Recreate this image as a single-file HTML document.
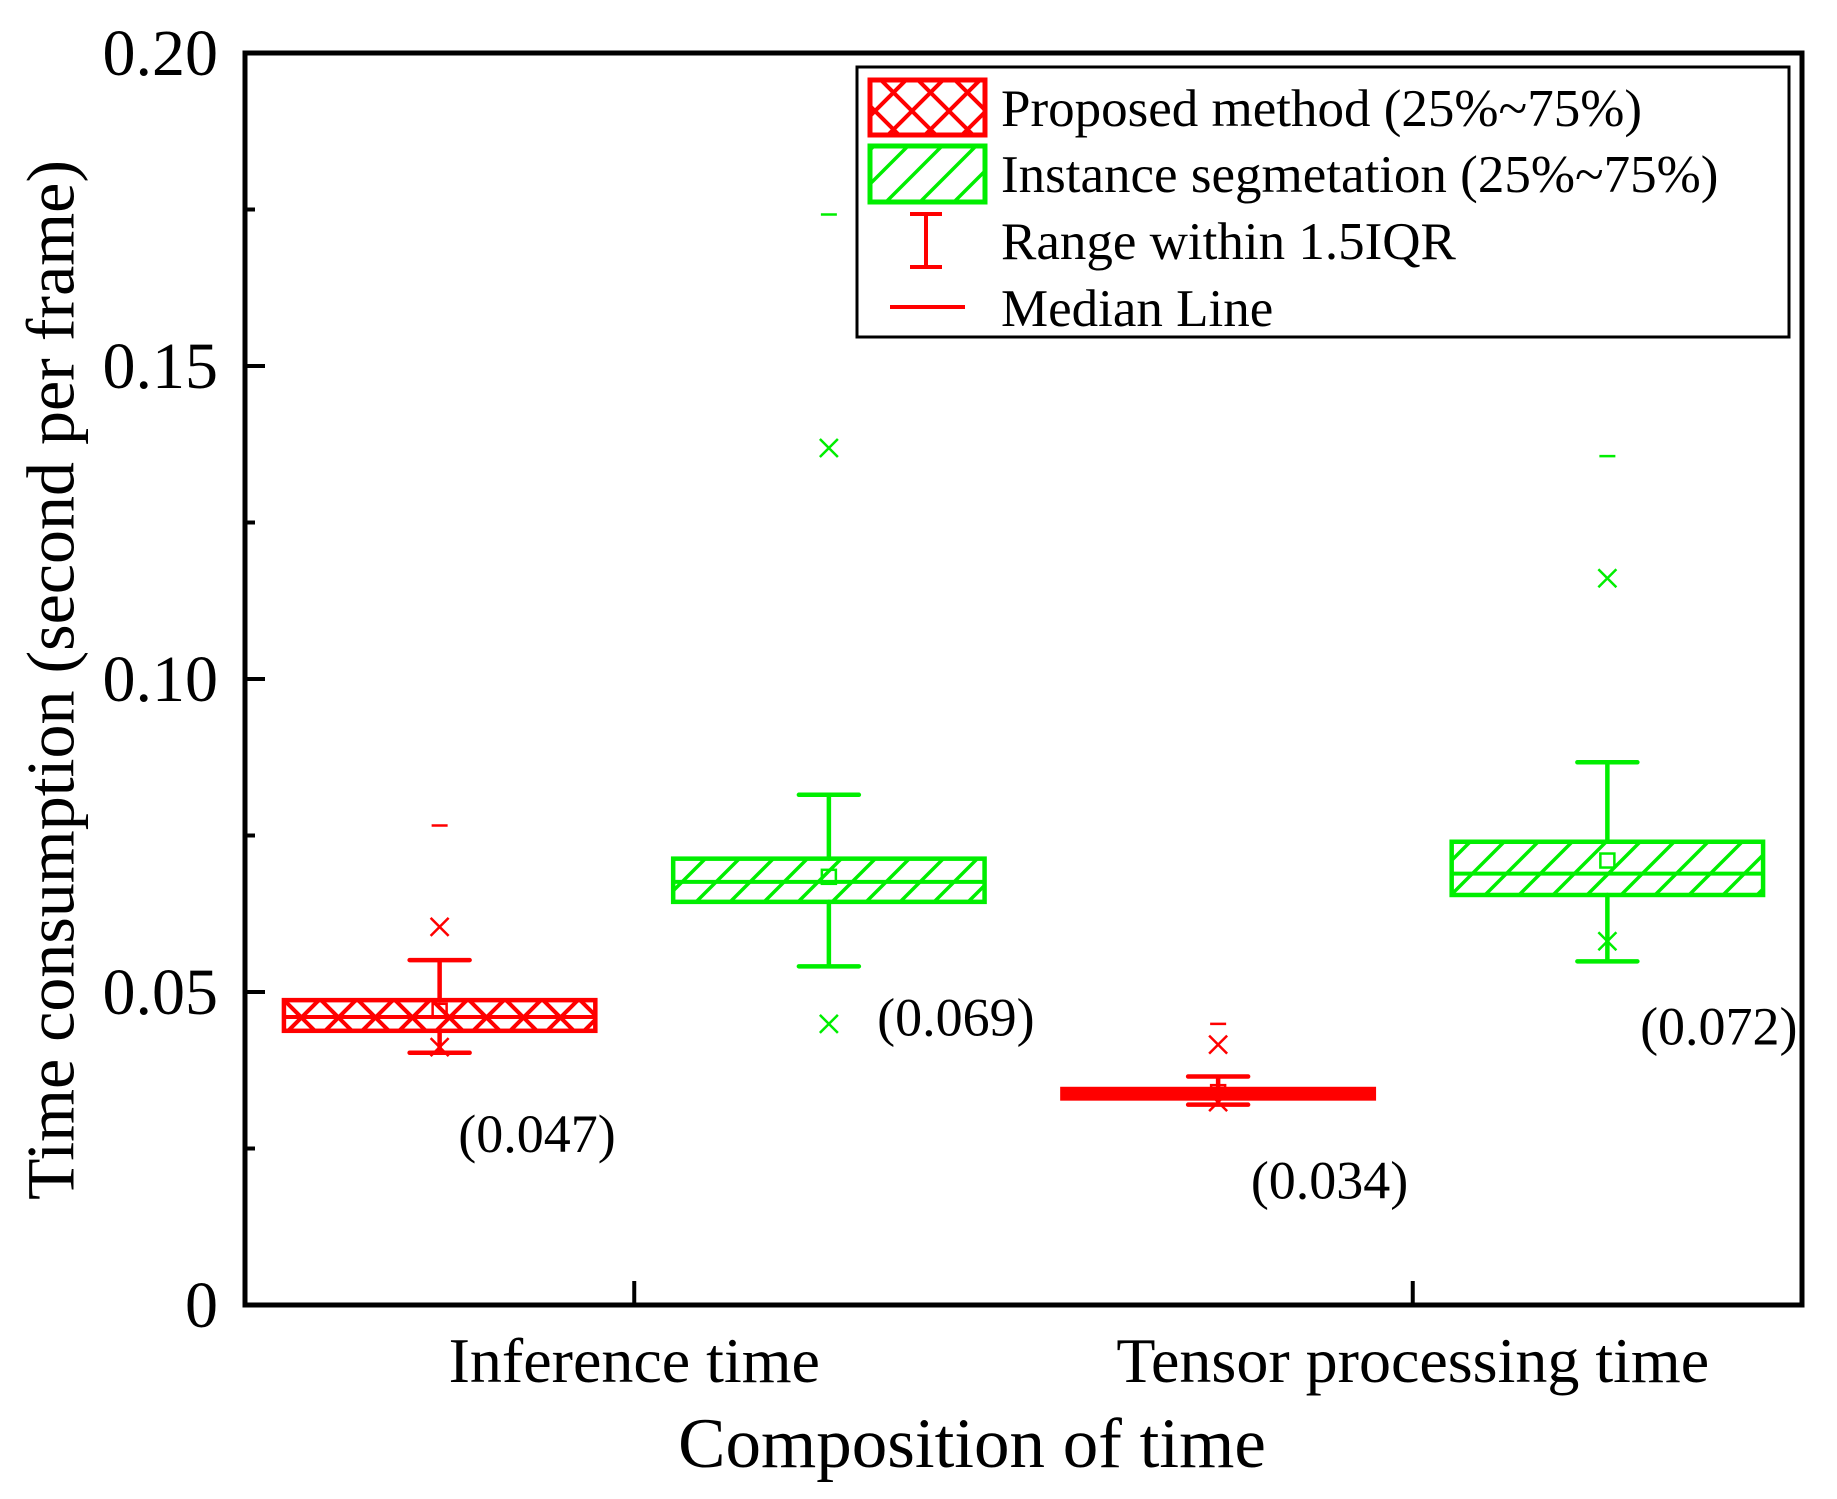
<!DOCTYPE html>
<html><head><meta charset="utf-8"><style>
html,body{margin:0;padding:0;background:#fff}
svg{display:block;font-family:"Liberation Serif",serif}
</style></head><body>
<svg id="chart" width="1837" height="1499" viewBox="0 0 1837 1499" xmlns="http://www.w3.org/2000/svg">
<defs>
<pattern id="cross" patternUnits="userSpaceOnUse" width="37" height="37" x="283" y="0">
<path d="M0,0 L37,37 M37,0 L0,37" stroke="#ff0000" stroke-width="4"/>
</pattern>
<pattern id="diag" patternUnits="userSpaceOnUse" width="34" height="34">
<path d="M0,34 L34,0 M-8,8 L8,-8 M26,42 L42,26" stroke="#00ee00" stroke-width="3.5"/>
</pattern>
</defs>
<g id="plot"></g>
<g id="axes"></g>
<g id="legend">
<rect x="857" y="67" width="932" height="270" fill="#fff" stroke="#000" stroke-width="3"/>
<rect x="870" y="80" width="115" height="55" fill="url(#cross)" stroke="#ff0000" stroke-width="5"/>
<text x="1001" y="126" font-size="53">Proposed method (25%~75%)</text>
<rect x="870" y="146" width="115" height="56" fill="url(#diag)" stroke="#00ee00" stroke-width="5"/>
<text x="1001" y="192" font-size="53">Instance segmetation (25%~75%)</text>
<g stroke="#ff0000" stroke-width="4"><path d="M910,214 H942 M926,214 V267 M910,267 H942"/></g>
<text x="1001" y="259" font-size="53">Range within 1.5IQR</text>
<path d="M890,307 H965" stroke="#ff0000" stroke-width="4"/>
<text x="1001" y="326" font-size="53">Median Line</text>
</g>
<text x="58" y="680" font-size="68" text-anchor="middle" transform="rotate(-90 58 680)" dominant-baseline="middle">Time consumption (second per frame)</text>
<text x="972" y="1467" font-size="71" text-anchor="middle">Composition of time</text>
</svg>
<script>
const categories = ["Inference time", "Tensor processing time"];
const series = ["proposed", "instance"];
const q1 = [[0.0438, 0.0330], [0.0644, 0.0655]];
const q3 = [[0.0487, 0.0345], [0.0713, 0.0740]];
const medians = [[0.0460, 0.0338], [0.0676, 0.0689]];
const means = [[0.0470, 0.0340], [0.0684, 0.0710]];
const whiskerLow = [[0.0403, 0.0320], [0.0541, 0.0549]];
const whiskerHigh = [[0.0551, 0.0365], [0.0815, 0.0867]];
const outlierHigh = [[0.0604, 0.0416], [0.1369, 0.1161]];
const outlierLow = [[0.0412, 0.0324], [0.0449, 0.0581]];
const maxMarks = [[0.0766, 0.0449], [0.1742, 0.1356]];
const meanLabels = [["(0.047)", "(0.034)"], ["(0.069)", "(0.072)"]];
const labelY = [[0.0264, 0.0190], [0.0450, 0.0436]];
const labelX = [[0.774, 1.792], [1.312, 2.292]];
const yTicks = [0, 0.05, 0.10, 0.15, 0.20];
const yTickLabels = ["0", "0.05", "0.10", "0.15", "0.20"];
const yMinorTicks = [0.025, 0.075, 0.125, 0.175];

const NS = "http://www.w3.org/2000/svg";
const L = 245, R = 1802, T = 53, B = 1305;
const yMin = 0, yMax = 0.2, xMin = 0.5, xMax = 2.5;
const yS = v => B - (v - yMin) / (yMax - yMin) * (B - T);
const xS = v => L + (v - xMin) / (xMax - xMin) * (R - L);
const colors = ["#ff0000", "#00ee00"];
const fills = ["url(#cross)", "url(#diag)"];
const offsets = [-0.25, 0.25];
const halfW = 0.2;
function mk(tag, attrs, parent, text) {
  const e = document.createElementNS(NS, tag);
  for (const k in attrs) e.setAttribute(k, attrs[k]);
  if (text !== undefined) e.textContent = text;
  parent.appendChild(e);
  return e;
}
const plot = document.getElementById("plot");
const axes = document.getElementById("axes");
for (let s = 0; s < 2; s++) {
  for (let c = 0; c < 2; c++) {
    const cx = xS(c + 1 + offsets[s]);
    const x0 = xS(c + 1 + offsets[s] - halfW), x1 = xS(c + 1 + offsets[s] + halfW);
    const col = colors[s];
    const g = mk("g", {}, plot);
    
    
    mk("path", {d: `M${cx},${yS(whiskerHigh[s][c])} V${yS(q3[s][c])} M${cx},${yS(q1[s][c])} V${yS(whiskerLow[s][c])} M${cx-30},${yS(whiskerHigh[s][c])} H${cx+30} M${cx-30},${yS(whiskerLow[s][c])} H${cx+30}`, stroke: col, "stroke-width": 4.5, "stroke-linecap": "round", fill: "none"}, g);
    const hgt = yS(q1[s][c]) - yS(q3[s][c]);
    mk("rect", {x: x0, y: yS(q3[s][c]), width: x1 - x0, height: hgt, fill: hgt < 15 ? col : fills[s], stroke: col, "stroke-width": 4.5}, g);
    mk("path", {d: `M${x0},${yS(medians[s][c])} H${x1}`, stroke: col, "stroke-width": 4}, g);
    mk("rect", {x: cx - 7, y: yS(means[s][c]) - 7, width: 14, height: 14, fill: "none", stroke: col, "stroke-width": 2.5}, g);
    for (const v of [outlierHigh[s][c], outlierLow[s][c]]) {
      const y = yS(v);
      mk("path", {d: `M${cx-9},${y-9} L${cx+9},${y+9} M${cx+9},${y-9} L${cx-9},${y+9}`, stroke: col, "stroke-width": 2.5}, g);
    }
    mk("path", {d: `M${cx-8},${yS(maxMarks[s][c])} H${cx+8}`, stroke: col, "stroke-width": 2.5}, g);
    const t = mk("text", {x: xS(labelX[s][c]), y: yS(labelY[s][c]), "font-size": 54, "dominant-baseline": "middle"}, plot, meanLabels[s][c]);
    
    
  }
}
const frame = mk("rect", {x: L, y: T, width: R - L, height: B - T, fill: "none", stroke: "#000", "stroke-width": 5}, axes);


yTicks.forEach((v, i) => {
  const y = yS(v);
  if (i > 0 && i < yTicks.length - 1) mk("path", {d: `M${L},${y} H${L+20}`, stroke: "#000", "stroke-width": 4}, axes);
  const t = mk("text", {x: 218, y: y + 22, "font-size": 66, "text-anchor": "end"}, axes, yTickLabels[i]);
  
  
});
yMinorTicks.forEach(v => {
  const y = yS(v);
  mk("path", {d: `M${L},${y} H${L+10}`, stroke: "#000", "stroke-width": 4}, axes);
});
categories.forEach((c, i) => {
  const x = xS(i + 1);
  mk("path", {d: `M${x},${B} V${B-24}`, stroke: "#000", "stroke-width": 4}, axes);
  const t = mk("text", {x: x, y: 1382, "font-size": 64, "text-anchor": "middle"}, axes, c);
  
  
});
</script>
</body></html>
